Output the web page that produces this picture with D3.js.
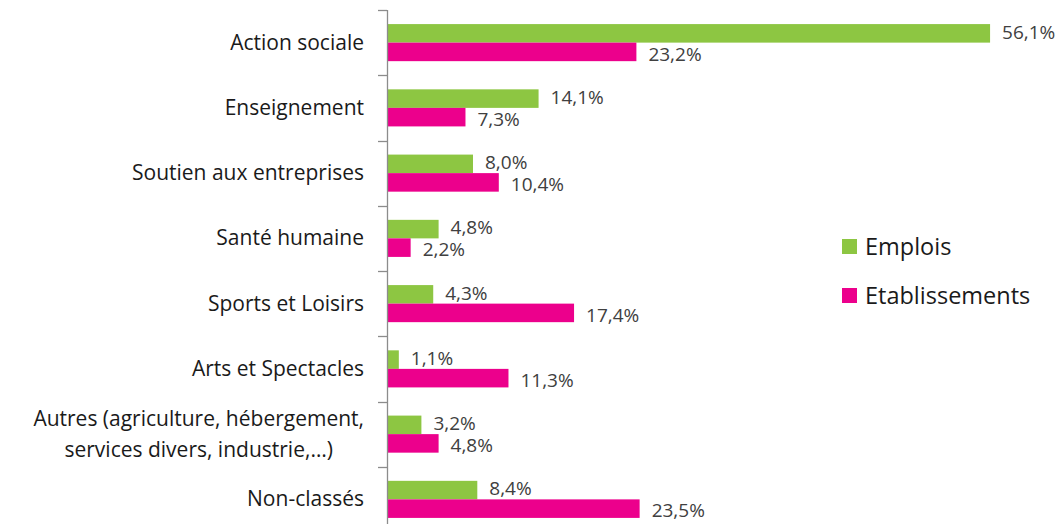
<!DOCTYPE html>
<html>
<head>
<meta charset="utf-8">
<script src="https://cdn.jsdelivr.net/npm/d3@7"></script>
<style>
  body { margin: 0; background: #fff; }
  text { font-family: "Open Sans", sans-serif; fill: #1a1a1a; }
</style>
</head>
<body>
<svg id="chart" width="1062" height="524"></svg>
<script>
// data
const categories = [
  ["Action sociale"],
  ["Enseignement"],
  ["Soutien aux entreprises"],
  ["Santé humaine"],
  ["Sports et Loisirs"],
  ["Arts et Spectacles"],
  ["Autres (agriculture, hébergement,", "services divers, industrie,…)"],
  ["Non-classés"]
];
const seriesNames = ["Emplois", "Etablissements"];
const emplois = [56.1, 14.1, 8.0, 4.8, 4.3, 1.1, 3.2, 8.4];
const etablissements = [23.2, 7.3, 10.4, 2.2, 17.4, 11.3, 4.8, 23.5];
const colors = ["#8DC642", "#EC008C"];

var dims = { left: 387, top: 10, bottom: 532, xMaxPx: 645, labelRight: 364 };

var svg = d3.select("#chart");

var catKeys = categories.map(function (d, i) { return i; });

var y0 = d3.scaleBand()
  .domain(catKeys)
  .range([dims.top, dims.bottom])
  .padding(0);

var y1 = d3.scaleBand()
  .domain(seriesNames)
  .range([0, y0.bandwidth()])
  .paddingInner(0)
  .paddingOuter(0.76);

var x = d3.scaleLinear().domain([0, 60]).range([0, dims.xMaxPx]);

var color = d3.scaleOrdinal(seriesNames, colors);

var rows = [];
catKeys.forEach(function (i) {
  rows.push({ cat: i, s: "Emplois", v: emplois[i] });
  rows.push({ cat: i, s: "Etablissements", v: etablissements[i] });
});

var fmt = function (v) { return d3.format(".1f")(v).replace(".", ",") + "%"; };

// bars
var bounds = svg.append("g").attr("transform", "translate(" + dims.left + ",0)");

bounds.selectAll("rect")
  .data(rows)
  .enter()
  .append("rect")
  .attr("x", 0)
  .attr("y", function (d) { return y0(d.cat) + y1(d.s); })
  .attr("width", function (d) { return x(d.v); })
  .attr("height", y1.bandwidth())
  .attr("fill", function (d) { return color(d.s); });

// value labels (nudged apart a little so the pairs don't collide)
bounds.selectAll(".val")
  .data(rows)
  .enter()
  .append("text")
  .attr("class", "val")
  .attr("x", function (d) { return x(d.v) + 12; })
  .attr("y", function (d) {
    var c = y0(d.cat) + y1(d.s) + y1.bandwidth() / 2;
    return d.s === "Emplois" ? c - 1.5 : c + 2;
  })
  .attr("dy", "0.36em")
  .style("font-size", "19px")
  .style("fill", "#404040")
  .text(function (d) { return fmt(d.v); });

// axis line + ticks at band edges
svg.append("line")
  .attr("x1", dims.left + 0.5).attr("x2", dims.left + 0.5)
  .attr("y1", dims.top).attr("y2", dims.bottom)
  .attr("stroke", "#8c8c8c").attr("stroke-width", 1.3);

var edges = catKeys.map(function (i) { return y0(i); }).concat([dims.bottom]);
svg.selectAll(".tick")
  .data(edges)
  .enter()
  .append("line")
  .attr("class", "tick")
  .attr("x1", dims.left - 9).attr("x2", dims.left)
  .attr("y1", function (d) { return Math.round(d) + 0.5; })
  .attr("y2", function (d) { return Math.round(d) + 0.5; })
  .attr("stroke", "#8c8c8c").attr("stroke-width", 1.3);

// category labels: block right-aligned, lines centred within the block
var catLabels = svg.selectAll(".cat")
  .data(categories)
  .enter()
  .append("text")
  .attr("class", "cat")
  .attr("y", function (d, i) { return y0(i) + y0.bandwidth() / 2; })
  .style("font-size", "21px");

catLabels.each(function (lines) {
  var t = d3.select(this);
  var start = -(lines.length - 1) / 2 * 31;
  var spans = lines.map(function (l, j) {
    return t.append("tspan")
      .attr("dy", j === 0 ? (start + 7) + "px" : "31px")
      .text(l);
  });
  var maxW = d3.max(spans, function (s) { return s.node().getComputedTextLength(); });
  var cx = dims.labelRight - maxW / 2;
  spans.forEach(function (s) {
    s.attr("x", cx).attr("text-anchor", "middle");
  });
});

// legend
var legend = svg.selectAll(".leg")
  .data(seriesNames)
  .enter()
  .append("g")
  .attr("class", "leg")
  .attr("transform", function (d, i) { return "translate(842," + (239 + i * 49) + ")"; });

legend.append("rect")
  .attr("width", 15).attr("height", 15)
  .attr("fill", function (d) { return color(d); });

legend.append("text")
  .attr("x", 23).attr("y", 8)
  .attr("dy", "0.36em")
  .style("font-size", "23.5px")
  .text(function (d) { return d; });
</script>
</body>
</html>
